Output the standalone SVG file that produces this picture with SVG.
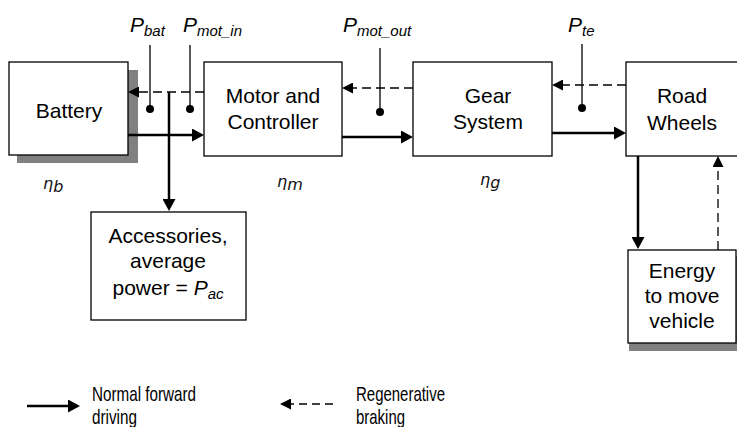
<svg xmlns="http://www.w3.org/2000/svg" width="737" height="427" viewBox="0 0 737 427">
<style>
.box{fill:#fff;stroke:#000;stroke-width:1.3}
.shadow{fill:#808080}
.t{font-family:"Liberation Sans",Arial,sans-serif;font-size:21px;fill:#000;text-anchor:middle}
.p{font-family:"Liberation Sans",Arial,sans-serif;font-size:21px;font-style:italic;fill:#000}
.sub{font-size:15px}
.eta{font-family:"DejaVu Sans",sans-serif;font-size:16px;font-style:italic;fill:#111}
.leg{font-family:"Liberation Sans Narrow","Liberation Sans",Arial,sans-serif;font-size:21px;fill:#000}
.solid{fill:none;stroke:#000;stroke-width:2.5}
.dash{fill:none;stroke:#000;stroke-width:1.3;stroke-dasharray:9 5}
.probe{fill:none;stroke:#000;stroke-width:1.3}
</style>
<defs>
<marker id="ah" markerUnits="userSpaceOnUse" markerWidth="12" markerHeight="13" refX="2" refY="6.5" orient="auto"><path d="M0,0 L12,6.5 L0,13 z" fill="#000"/></marker>
<marker id="ahd" markerUnits="userSpaceOnUse" markerWidth="11" markerHeight="11" refX="2" refY="5.5" orient="auto"><path d="M0,0 L11,5.5 L0,11 z" fill="#000"/></marker>
</defs>
<rect width="737" height="427" fill="#fff"/>

<g id="battery">
<rect class="shadow" x="17" y="70" width="121" height="93"/>
<rect class="box" x="9" y="62" width="119" height="93"/>
<text class="t" x="69" y="118">Battery</text>
</g>
<g id="motor">
<rect class="box" x="204" y="62" width="138" height="94"/>
<text class="t" x="273" y="103">Motor and</text>
<text class="t" x="273" y="129">Controller</text>
</g>
<g id="gear">
<rect class="box" x="413" y="62" width="139" height="94"/>
<text class="t" x="488" y="103">Gear</text>
<text class="t" x="488" y="129">System</text>
</g>
<g id="wheels">
<rect class="box" x="626" y="62" width="116" height="94"/>
<text class="t" x="682" y="103">Road</text>
<text class="t" x="682" y="130">Wheels</text>
</g>
<g id="accessories">
<rect class="box" x="91" y="212" width="155" height="108"/>
<text class="t" x="168" y="243">Accessories,</text>
<text class="t" x="168" y="268">average</text>
<text class="t" x="168" y="295">power = <tspan font-style="italic">P</tspan><tspan font-style="italic" class="sub" dy="4">ac</tspan></text>
</g>
<g id="energy">
<rect class="shadow" x="629" y="256" width="112" height="95"/>
<rect class="box" x="628" y="250" width="108" height="93"/>
<text class="t" x="682" y="278">Energy</text>
<text class="t" x="682" y="303">to move</text>
<text class="t" x="682" y="328">vehicle</text>
</g>

<g id="labels">
<text class="p" x="130" y="32">P<tspan class="sub" dy="4">bat</tspan></text>
<text class="p" x="183" y="32">P<tspan class="sub" dy="4">mot_in</tspan></text>
<text class="p" x="343" y="32">P<tspan class="sub" dy="4">mot_out</tspan></text>
<text class="p" x="568" y="32">P<tspan class="sub" dy="4">te</tspan></text>
<text class="eta" x="43" y="189">η<tspan dy="3">b</tspan></text>
<text class="eta" x="277" y="187">η<tspan dy="3">m</tspan></text>
<text class="eta" x="480" y="185">η<tspan dy="3">g</tspan></text>
</g>

<g id="connectors">
<path class="solid" d="M128,135 H194" marker-end="url(#ah)"/>
<path class="solid" d="M342,137 H403" marker-end="url(#ah)"/>
<path class="solid" d="M552,133 H616" marker-end="url(#ah)"/>
<path class="solid" d="M169,92 V201" marker-end="url(#ah)"/>
<path class="solid" d="M638,156 V239" marker-end="url(#ah)"/>
<path class="dash" d="M204,92 H137" marker-end="url(#ahd)"/>
<path class="dash" d="M413,88 H351" marker-end="url(#ahd)"/>
<path class="dash" d="M626,85 H561" marker-end="url(#ahd)"/>
<path class="dash" d="M718,250 V165" marker-end="url(#ahd)"/>
<path class="probe" d="M150,45 V109"/><circle cx="150" cy="109" r="4"/>
<path class="probe" d="M190,45 V109"/><circle cx="190" cy="109" r="4"/>
<path class="probe" d="M380,48 V112"/><circle cx="380" cy="112" r="4"/>
<path class="probe" d="M582,44 V108"/><circle cx="582" cy="108" r="4"/>
</g>

<g id="legend">
<path class="solid" d="M27,406 H70" marker-end="url(#ah)"/>
<text class="leg" x="92" y="401" textLength="104" lengthAdjust="spacingAndGlyphs">Normal forward</text>
<text class="leg" x="92" y="424" textLength="45" lengthAdjust="spacingAndGlyphs">driving</text>
<path class="dash" d="M333,404 H289" style="stroke-dasharray:8 5" marker-end="url(#ahd)"/>
<text class="leg" x="356" y="401" textLength="89" lengthAdjust="spacingAndGlyphs">Regenerative</text>
<text class="leg" x="356" y="424" textLength="49" lengthAdjust="spacingAndGlyphs">braking</text>
</g>
</svg>
